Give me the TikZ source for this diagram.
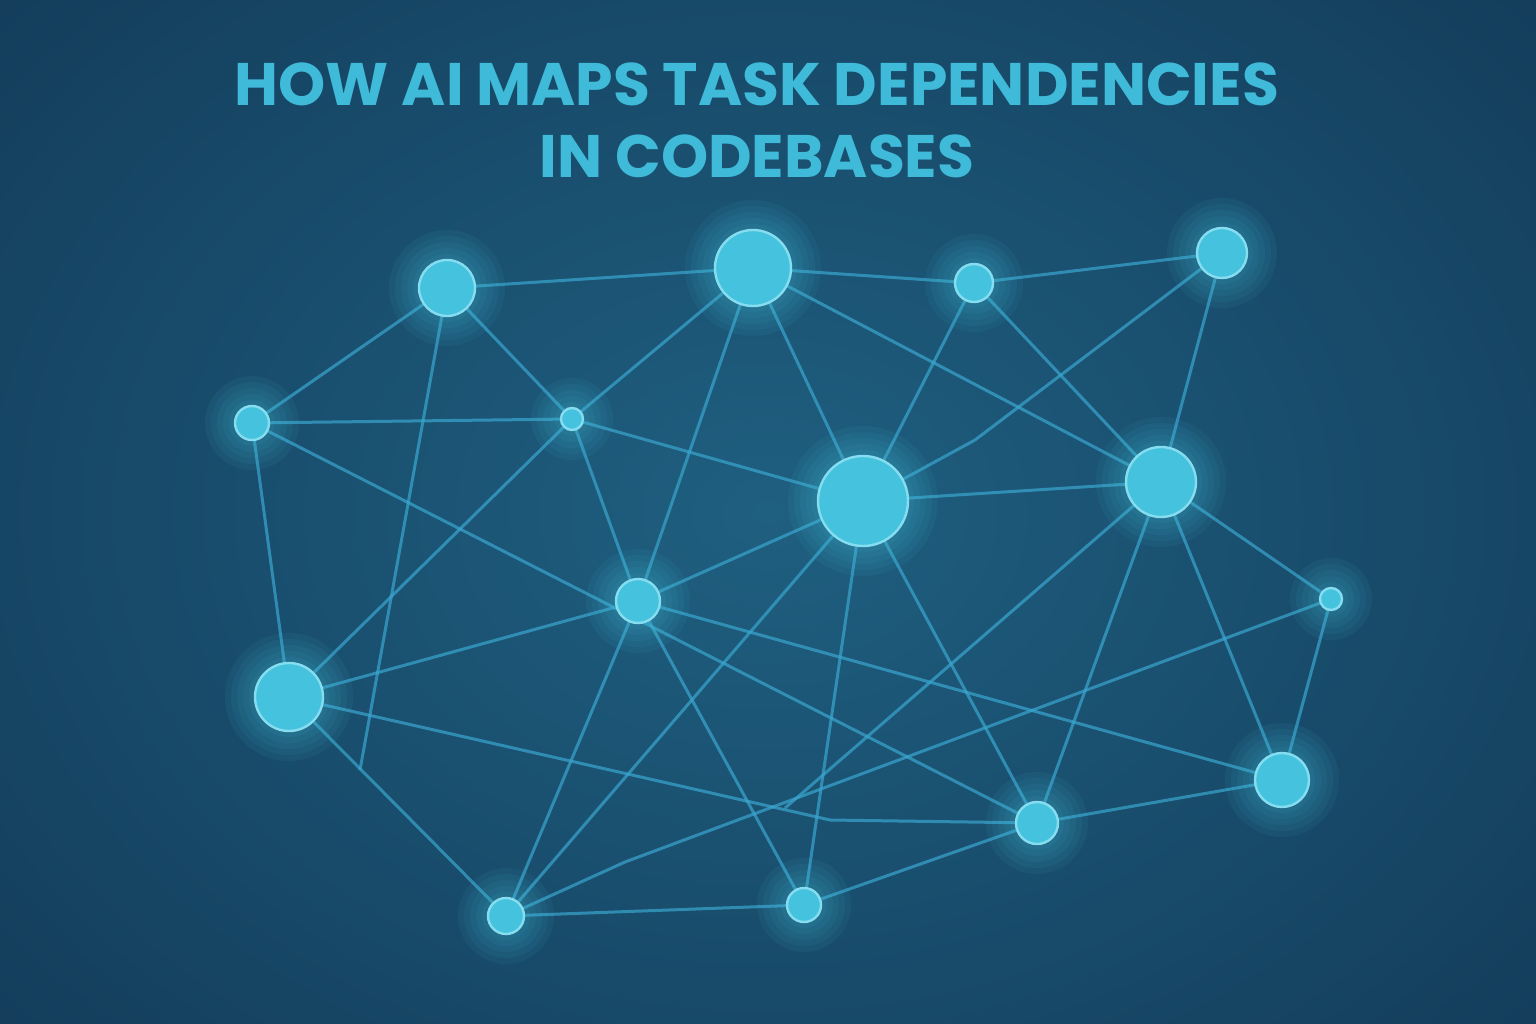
\documentclass[tikz,border=0pt]{standalone}
\usepackage{fontspec}
\setmainfont{Poppins}
\usetikzlibrary{shadings}
\definecolor{bgc}{HTML}{133C5A}
\definecolor{bgi}{HTML}{1F5F80}
\definecolor{ttl}{HTML}{3FBAD9}
\definecolor{edg}{HTML}{3AA6CF}
\definecolor{nfill}{HTML}{45C2DD}
\definecolor{nring}{HTML}{86DDF0}
\tikzset{
  edge/.style={draw=edg, line width=3pt, opacity=0.7},
  nd/.style={circle, fill=nfill, draw=nring, line width=2.4pt, inner sep=0pt},
  glow/.style={circle, inner sep=0pt, fill=nfill, opacity=0.07, draw=none}
}
\begin{document}
\begin{tikzpicture}[x=1pt,y=-1pt]
\useasboundingbox (0,0) rectangle (1536,1024);
\shade[inner color=bgi, outer color=bgc] (-300,-300) rectangle (1836,1324);
\node[text=ttl, font=\fontsize{60}{72}\selectfont\bfseries, align=center] (title) at (757,120) {HOW AI MAPS TASK DEPENDENCIES\\IN CODEBASES};
\foreach \n/\x/\y/\r in {A/447/288/28, B/753/268/38, C/974/283/19, D/1222/253/25, E/252/423/17, F/572/419/11, G/863/501/45, H/1161/482/35, I/638/601/22, J/1331/599/11, K/289/697/34, L/1282/780/27, M/1037/823/21, N/506/916/18, O/804/905/17}{
  \coordinate (\n) at (\x,\y);
}
\coordinate (p1) at (360,770);
\coordinate (p2) at (785,808);
\coordinate (p3) at (625,862);
\coordinate (p4) at (975,440);
\coordinate (p5) at (830,820);
\foreach \a/\b in {A/B,B/C,C/D,A/E,A/F,A/p1,E/F,E/K,E/M,F/K,F/I,F/G,B/F,B/I,B/G,C/G,C/H,B/H,D/H,D/p4,p4/G,G/H,G/I,G/N,G/O,G/M,H/J,H/M,H/L,H/p2,I/K,I/N,I/O,I/L,K/N,K/p5,p5/M,J/L,J/p3,p3/N,N/O,O/M,M/L}{
  \draw[edge] (\a) -- (\b);
}
\foreach \n/\r in {A/28,B/38,C/19,D/25,E/17,F/11,G/45,H/35,I/22,J/11,K/34,L/27,M/21,N/18,O/17}{
  \foreach \k in {6,12,18,24,30}{
    \node[glow, minimum size={2*\r pt+2*\k pt}] at (\n) {};
  }
  \node[nd, minimum size={2*\r pt}] (n\n) at (\n) {};
}
\end{tikzpicture}
\end{document}
